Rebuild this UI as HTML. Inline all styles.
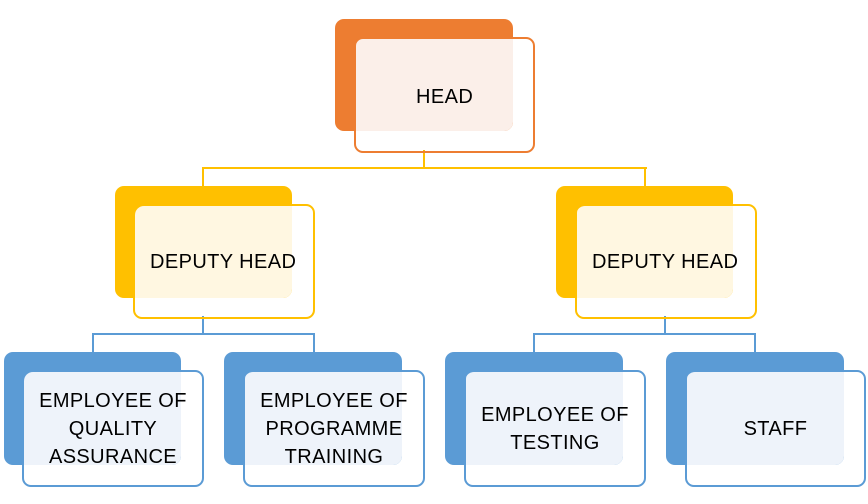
<!DOCTYPE html>
<html><head><style>
body{margin:0;width:868px;height:504px;background:#fff;position:relative;overflow:hidden;font-family:"Liberation Sans",sans-serif}
.b{position:absolute;border-radius:9px}
.f{position:absolute;border-radius:9px;background:transparent;border:2px solid;box-sizing:border-box;display:flex;align-items:center;justify-content:center;text-align:center;font-size:20px;letter-spacing:0.4px;line-height:28px;color:#000}
.l{position:absolute}
</style></head><body>
<!-- connectors -->
<div class="l" style="left:423px;top:150px;width:2px;height:18px;background:#FFC000"></div>
<div class="l" style="left:202px;top:167px;width:445px;height:2px;background:#FFC000"></div>
<div class="l" style="left:202px;top:167px;width:2px;height:20px;background:#FFC000"></div>
<div class="l" style="left:644px;top:167px;width:2px;height:20px;background:#FFC000"></div>

<div class="l" style="left:202px;top:316px;width:2px;height:18px;background:#5B9BD5"></div>
<div class="l" style="left:92px;top:333px;width:223px;height:2px;background:#5B9BD5"></div>
<div class="l" style="left:92px;top:333px;width:2px;height:20px;background:#5B9BD5"></div>
<div class="l" style="left:313px;top:333px;width:2px;height:20px;background:#5B9BD5"></div>
<div class="l" style="left:664px;top:316px;width:2px;height:18px;background:#5B9BD5"></div>
<div class="l" style="left:533px;top:333px;width:223px;height:2px;background:#5B9BD5"></div>
<div class="l" style="left:533px;top:333px;width:2px;height:20px;background:#5B9BD5"></div>
<div class="l" style="left:754px;top:333px;width:2px;height:20px;background:#5B9BD5"></div>

<!-- HEAD -->
<div class="b" style="left:335px;top:19px;width:178px;height:112px;background:#ED7D31"></div>
<div class="b" style="left:355px;top:38px;width:158px;height:93px;background:#FBEFE9;border-radius:9px 0 9px 0"></div>
<div class="f" style="left:354px;top:37px;width:181px;height:116px;border-color:#ED7D31;padding-top:3px;justify-content:flex-start;padding-left:60px">HEAD</div>

<!-- deputies -->
<div class="b" style="left:115px;top:186px;width:177px;height:112px;background:#FFC000"></div>
<div class="b" style="left:135px;top:206px;width:157px;height:92px;background:#FFF7E1;border-radius:9px 0 9px 0"></div>
<div class="f" style="left:133px;top:204px;width:182px;height:115px;border-color:#FFC000;justify-content:flex-start;padding-left:15px">DEPUTY HEAD</div>

<div class="b" style="left:556px;top:186px;width:177px;height:112px;background:#FFC000"></div>
<div class="b" style="left:576px;top:206px;width:157px;height:92px;background:#FFF7E1;border-radius:9px 0 9px 0"></div>
<div class="f" style="left:575px;top:204px;width:182px;height:115px;border-color:#FFC000;justify-content:flex-start;padding-left:15px">DEPUTY HEAD</div>

<!-- employees -->
<div class="b" style="left:4px;top:352px;width:177px;height:113px;background:#5B9BD5"></div>
<div class="b" style="left:24px;top:372px;width:157px;height:93px;background:#EEF3FA;border-radius:9px 0 9px 0"></div>
<div class="f" style="left:22px;top:370px;width:182px;height:117px;border-color:#5B9BD5">EMPLOYEE OF<br>QUALITY<br>ASSURANCE</div>

<div class="b" style="left:224px;top:352px;width:178px;height:113px;background:#5B9BD5"></div>
<div class="b" style="left:244px;top:372px;width:158px;height:93px;background:#EEF3FA;border-radius:9px 0 9px 0"></div>
<div class="f" style="left:243px;top:370px;width:182px;height:117px;border-color:#5B9BD5">EMPLOYEE OF<br>PROGRAMME<br>TRAINING</div>

<div class="b" style="left:445px;top:352px;width:178px;height:113px;background:#5B9BD5"></div>
<div class="b" style="left:465px;top:372px;width:158px;height:93px;background:#EEF3FA;border-radius:9px 0 9px 0"></div>
<div class="f" style="left:464px;top:370px;width:182px;height:117px;border-color:#5B9BD5">EMPLOYEE OF<br>TESTING</div>

<div class="b" style="left:666px;top:352px;width:178px;height:113px;background:#5B9BD5"></div>
<div class="b" style="left:686px;top:372px;width:158px;height:93px;background:#EEF3FA;border-radius:9px 0 9px 0"></div>
<div class="f" style="left:685px;top:370px;width:181px;height:117px;border-color:#5B9BD5">STAFF</div>
</body></html>
